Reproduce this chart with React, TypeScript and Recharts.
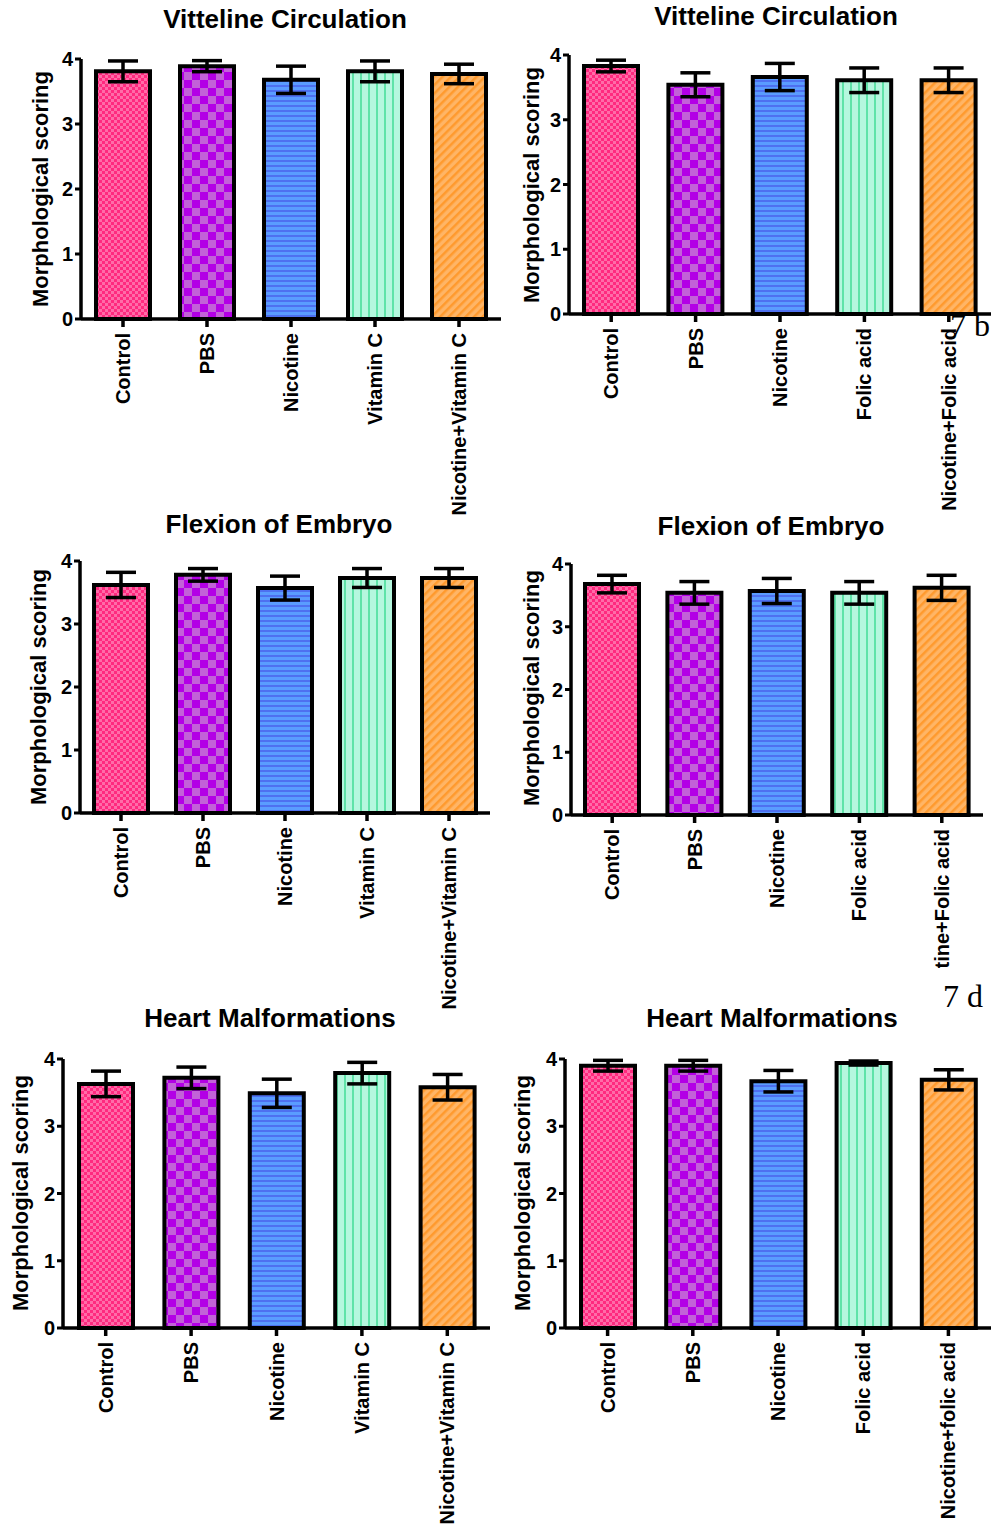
import React from 'react';
import { BarChart, Bar, XAxis, YAxis, Cell, ErrorBar } from 'recharts';

// group names on the x axis
const groupsVitC = ['Control', 'PBS', 'Nicotine', 'Vitamin C', 'Nicotine+Vitamin C'];
const groupsFolic = ['Control', 'PBS', 'Nicotine', 'Folic acid', 'Nicotine+Folic acid'];
const groupsFolicLower = ['Control', 'PBS', 'Nicotine', 'Folic acid', 'Nicotine+folic acid'];

// mean scores and error (half length)
const vitellineVitC = [3.81, 3.89, 3.68, 3.81, 3.77];
const vitellineVitCErr = [0.16, 0.085, 0.21, 0.16, 0.15];
const vitellineFolic = [3.83, 3.54, 3.66, 3.61, 3.61];
const vitellineFolicErr = [0.09, 0.185, 0.21, 0.19, 0.19];

const flexionVitC = [3.62, 3.78, 3.57, 3.73, 3.73];
const flexionVitCErr = [0.2, 0.1, 0.19, 0.15, 0.15];
const flexionFolic = [3.68, 3.54, 3.57, 3.54, 3.62];
const flexionFolicErr = [0.14, 0.18, 0.2, 0.18, 0.2];

const heartVitC = [3.63, 3.72, 3.49, 3.79, 3.58];
const heartVitCErr = [0.19, 0.16, 0.21, 0.16, 0.19];
const heartFolic = [3.9, 3.9, 3.67, 3.94, 3.69];
const heartFolicErr = [0.08, 0.08, 0.16, 0.03, 0.15];

const yTicks = [0, 1, 2, 3, 4];

const FONT = '"Liberation Sans", Arial, sans-serif';

function Patterns({ id }: { id: string }) {
  return (
    <defs>
      <pattern id={`${id}-0`} width={6} height={6} patternUnits="userSpaceOnUse">
        <rect width={6} height={6} fill="#ff2a7f" />
        <rect x={0} y={0} width={3} height={3} fill="#ff6ca8" />
        <rect x={3} y={3} width={3} height={3} fill="#ff6ca8" />
      </pattern>
      <pattern id={`${id}-1`} width={16} height={16} patternUnits="userSpaceOnUse">
        <rect width={16} height={16} fill="#b300e6" />
        <rect x={0} y={0} width={8} height={8} fill="#c262d8" />
        <rect x={8} y={8} width={8} height={8} fill="#c262d8" />
      </pattern>
      <pattern id={`${id}-2`} width={6} height={5} patternUnits="userSpaceOnUse">
        <rect width={6} height={5} fill="#5a9cff" />
        <rect x={0} y={0} width={6} height={2} fill="#4e70f0" />
      </pattern>
      <pattern id={`${id}-3`} width={8} height={8} patternUnits="userSpaceOnUse">
        <rect width={8} height={8} fill="#b5f7de" />
        <rect x={0} y={0} width={2} height={8} fill="#5fe3a8" />
      </pattern>
      <pattern id={`${id}-4`} width={6} height={6} patternUnits="userSpaceOnUse" patternTransform="rotate(45)">
        <rect width={6} height={6} fill="#ffb566" />
        <rect x={0} y={0} width={2.5} height={6} fill="#ff9a2e" />
      </pattern>
    </defs>
  );
}

const CatTick = (props: any) => {
  const { x, y, payload } = props;
  return (
    <text
      x={x}
      y={y}
      transform={`rotate(-90, ${x}, ${y})`}
      textAnchor="end"
      dominantBaseline="central"
      fontFamily={FONT}
      fontWeight={700}
      fontSize={20}
      fill="#000"
    >
      {payload.value}
    </text>
  );
};

interface Box { left: number; top: number; width: number; height: number }
interface Plot { left: number; top: number; right: number; bottom: number }

interface PanelProps {
  id: string;
  title: string;
  groups: string[];
  values: number[];
  errors: number[];
  box: Box;
  plot: Plot;
  titleAt: [number, number];
  labelAt: [number, number];
}

function Panel({ id, title, groups, values, errors, box, plot, titleAt, labelAt }: PanelProps) {
  const data = groups.map((name, i) => ({ name, value: values[i], err: errors[i] }));
  const tx = titleAt[0] - box.left;
  const ty = titleAt[1] - box.top;
  const lx = labelAt[0] - box.left;
  const ly = labelAt[1] - box.top;

  return (
    <div style={{ position: 'absolute', left: box.left, top: box.top, width: box.width, height: box.height }}>
      <BarChart
        width={box.width}
        height={box.height}
        data={data}
        margin={{ top: plot.top - box.top, right: box.left + box.width - plot.right, left: 0, bottom: 0 }}
        barCategoryGap={0}
      >
        <Patterns id={id} />
        <text x={tx} y={ty} textAnchor="middle" fontFamily={FONT} fontWeight={700} fontSize={26} fill="#000">
          {title}
        </text>
        <text
          x={lx}
          y={ly}
          transform={`rotate(-90, ${lx}, ${ly})`}
          textAnchor="middle"
          dominantBaseline="central"
          fontFamily={FONT}
          fontWeight={700}
          fontSize={22}
          fill="#000"
        >
          Morphological scoring
        </text>
        <XAxis
          dataKey="name"
          type="category"
          interval={0}
          height={box.top + box.height - plot.bottom}
          axisLine={{ stroke: '#000', strokeWidth: 3.5 }}
          tickLine={{ stroke: '#000', strokeWidth: 3.5 }}
          tickSize={8}
          tickMargin={6}
          tick={<CatTick />}
        />
        <YAxis
          type="number"
          domain={[0, 4]}
          ticks={yTicks}
          interval={0}
          width={plot.left - box.left}
          axisLine={{ stroke: '#000', strokeWidth: 3.5 }}
          tickLine={{ stroke: '#000', strokeWidth: 3 }}
          tickSize={6}
          tickMargin={2}
          tick={{ fill: '#000', fontFamily: FONT, fontWeight: 700, fontSize: 20 }}
        />
        <Bar dataKey="value" barSize={54} stroke="#000" strokeWidth={4} isAnimationActive={false}>
          {data.map((d, i) => (
            <Cell key={d.name} fill={`url(#${id}-${i})`} />
          ))}
          <ErrorBar dataKey="err" width={15} stroke="#000" strokeWidth={3.5} isAnimationActive={false} />
        </Bar>
      </BarChart>
    </div>
  );
}

export default function App() {
  return (
    <div style={{ position: 'absolute', left: 0, top: 0, width: 993, height: 1529, background: '#fff', overflow: 'hidden' }}>
      <svg style={{ position: 'absolute', left: 0, top: 0 }} width={993} height={1529}>
        <text x={950} y={336} fontFamily='"Liberation Serif", serif' fontSize={32} fill="#000">7 b</text>
        <text x={943} y={1007} fontFamily='"Liberation Serif", serif' fontSize={32} fill="#000">7 d</text>
      </svg>

      <Panel
        id="p1"
        title="Vitteline Circulation"
        groups={groupsVitC}
        values={vitellineVitC}
        errors={vitellineVitCErr}
        box={{ left: 0, top: 0, width: 505, height: 515 }}
        plot={{ left: 81, top: 59, right: 501, bottom: 319 }}
        titleAt={[285, 28]}
        labelAt={[40, 189]}
      />
      <Panel
        id="p2"
        title="Vitteline Circulation"
        groups={groupsFolic}
        values={vitellineFolic}
        errors={vitellineFolicErr}
        box={{ left: 490, top: 0, width: 503, height: 515 }}
        plot={{ left: 569, top: 55, right: 991, bottom: 314 }}
        titleAt={[776, 25]}
        labelAt={[531, 185]}
      />
      <Panel
        id="p3"
        title="Flexion of Embryo"
        groups={groupsVitC}
        values={flexionVitC}
        errors={flexionVitCErr}
        box={{ left: 0, top: 500, width: 500, height: 510 }}
        plot={{ left: 80, top: 561, right: 490, bottom: 813 }}
        titleAt={[279, 533]}
        labelAt={[38, 687]}
      />
      <Panel
        id="p4"
        title="Flexion of Embryo"
        groups={groupsFolic}
        values={flexionFolic}
        errors={flexionFolicErr}
        box={{ left: 490, top: 500, width: 500, height: 468 }}
        plot={{ left: 571, top: 564, right: 983, bottom: 815 }}
        titleAt={[771, 535]}
        labelAt={[531, 688]}
      />
      <Panel
        id="p5"
        title="Heart Malformations"
        groups={groupsVitC}
        values={heartVitC}
        errors={heartVitCErr}
        box={{ left: 0, top: 995, width: 500, height: 534 }}
        plot={{ left: 63, top: 1059, right: 490, bottom: 1328 }}
        titleAt={[270, 1027]}
        labelAt={[20, 1193]}
      />
      <Panel
        id="p6"
        title="Heart Malformations"
        groups={groupsFolicLower}
        values={heartFolic}
        errors={heartFolicErr}
        box={{ left: 480, top: 995, width: 513, height: 534 }}
        plot={{ left: 565, top: 1059, right: 991, bottom: 1328 }}
        titleAt={[772, 1027]}
        labelAt={[522, 1193]}
      />
    </div>
  );
}
